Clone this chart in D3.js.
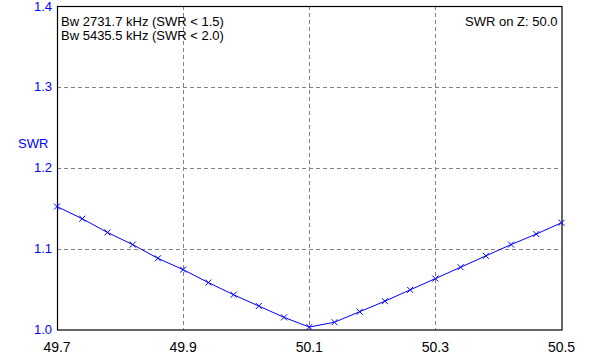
<!DOCTYPE html>
<html>
<head>
<meta charset="utf-8">
<script src="https://cdn.jsdelivr.net/npm/d3@7"></script>
<style>
  body { margin: 0; background: #fff; }
  svg { display: block; font-family: Arial, "Liberation Sans", sans-serif; }
</style>
</head>
<body>
<svg id="chart" width="603" height="359"></svg>
<script>
// frequency points (MHz) and SWR
var freq = [49.70, 49.74, 49.78, 49.82, 49.86, 49.90, 49.94, 49.98, 50.02, 50.06, 50.10,
  50.14, 50.18, 50.22, 50.26, 50.30, 50.34, 50.38, 50.42, 50.46, 50.50]
var swr = [1.152, 1.137, 1.120, 1.105, 1.088, 1.074, 1.058, 1.043, 1.029, 1.015, 1.003,
  1.009, 1.022, 1.035, 1.049, 1.063, 1.077, 1.091, 1.105, 1.118, 1.132]
var xTicks = [49.7, 49.9, 50.1, 50.3, 50.5]
var yTicks = [1.0, 1.1, 1.2, 1.3, 1.4]
var infoLines = ["Bw 2731.7 kHz (SWR < 1.5)", "Bw 5435.5 kHz (SWR < 2.0)"]
var zText = "SWR on Z: 50.0"

var svg = d3.select("#chart"),
  margin = { top: 6, right: 41.5, bottom: 29.5, left: 57 },
  width = 603 - margin.left - margin.right,
  height = 359 - margin.top - margin.bottom;

var x = d3.scaleLinear().domain([49.7, 50.5]).range([0, width])
var y = d3.scaleLinear().domain([1.0, 1.4]).range([height, 0])

var g = svg.append("g").attr("transform", "translate(" + margin.left + "," + margin.top + ")")

//-------------------------------------------grid
g.selectAll(".vgrid").data(xTicks.slice(1, -1)).join("line").attr("class", "vgrid")
  .attr("x1", d => Math.round(x(d)) + 0.5).attr("x2", d => Math.round(x(d)) + 0.5)
  .attr("y1", 0).attr("y2", height)
  .attr("stroke", "#808080").attr("stroke-dasharray", "4,3")
g.selectAll(".hgrid").data(yTicks.slice(1, -1)).join("line").attr("class", "hgrid")
  .attr("y1", d => Math.round(y(d)) + 0.5).attr("y2", d => Math.round(y(d)) + 0.5)
  .attr("x1", 0).attr("x2", width)
  .attr("stroke", "#808080").attr("stroke-dasharray", "4,3")

//-------------------------------------------frame
g.append("rect").attr("x", 0.5).attr("y", 0.5).attr("width", width).attr("height", height)
  .attr("fill", "none").attr("stroke", "#000").attr("stroke-width", 1.2)

//-------------------------------------------axes labels
g.selectAll(".xlab").data(xTicks).join("text").attr("class", "xlab")
  .attr("x", d => x(d)).attr("y", height + 22)
  .attr("text-anchor", "middle").attr("font-size", 14).attr("fill", "#000")
  .text(d => d.toFixed(1))
g.selectAll(".ylab").data(yTicks).join("text").attr("class", "ylab")
  .attr("x", -5).attr("y", d => y(d)).attr("dy", "0.35em")
  .attr("text-anchor", "end").attr("font-size", 13).attr("fill", "#0000ff")
  .text(d => d.toFixed(1))
svg.append("text").attr("x", 18).attr("y", 148).attr("font-size", 13).attr("fill", "#0000ff").text("SWR")

//-------------------------------------------curve
var pts = freq.map((f, i) => [f, swr[i]])
g.append("path").datum(pts)
  .attr("fill", "none").attr("stroke", "#0000ff").attr("stroke-width", 1)
  .attr("d", d3.line().x(d => x(d[0])).y(d => y(d[1])))
var s = 3
g.selectAll(".mark").data(pts).join("path").attr("class", "mark")
  .attr("fill", "none").attr("stroke", "#0000ff").attr("stroke-width", 1)
  .attr("d", d => {
    var cx = x(d[0]), cy = y(d[1])
    return "M" + (cx - s) + "," + (cy - s) + "L" + (cx + s) + "," + (cy + s) +
      "M" + (cx - s) + "," + (cy + s) + "L" + (cx + s) + "," + (cy - s)
  })

//-------------------------------------------info texts
g.selectAll(".info").data(infoLines).join("text").attr("class", "info")
  .attr("x", 4).attr("y", (d, i) => 20 + i * 13.5)
  .attr("font-size", 13).attr("fill", "#000").text(d => d)
g.append("text").attr("x", width - 4).attr("y", 20).attr("text-anchor", "end")
  .attr("font-size", 13).attr("fill", "#000").text(zText)
</script>
</body>
</html>
